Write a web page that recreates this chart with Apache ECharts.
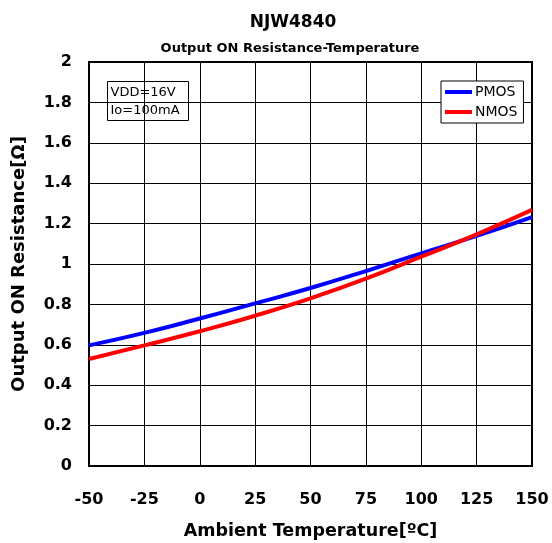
<!DOCTYPE html>
<html>
<head>
<meta charset="utf-8">
<script src="https://cdn.jsdelivr.net/npm/echarts@6/dist/echarts.min.js"></script>
<style>html,body{margin:0;padding:0;background:#fff}#c{width:552px;height:543px}</style>
</head>
<body>
<div id="c"></div>
<script>
const temps = [-50, -25, 0, 25, 50, 75, 100, 125, 150];
const pmos = [0.597, 0.659, 0.730, 0.805, 0.881, 0.965, 1.053, 1.139, 1.232];
const nmos = [0.530, 0.597, 0.667, 0.744, 0.830, 0.927, 1.036, 1.147, 1.268];
const seriesNames = ['PMOS', 'NMOS'];
const titleText = 'NJW4840';
const subtitleText = 'Output ON Resistance-Temperature';
const xName = 'Ambient Temperature[ºC]';
const yName = 'Output ON Resistance[Ω]';
const noteLines = ['VDD=16V', 'Io=100mA'];

const F = '"DejaVu Sans", sans-serif';
const chart = echarts.init(document.getElementById('c'), null, {renderer: 'canvas'});
chart.setOption({
  animation: false,
  backgroundColor: '#fff',
  title: [
    {text: titleText, left: 288, top: 9, textAlign: 'center',
     textStyle: {fontFamily: F, fontSize: 17, fontWeight: 'bold', color: '#000'}},
    {text: subtitleText, left: 285, top: 37, textAlign: 'center',
     textStyle: {fontFamily: F, fontSize: 13, fontWeight: 'bold', color: '#000'}}
  ],
  grid: {left: 89, right: 20, top: 62, bottom: 77, show: true, borderColor: '#000', borderWidth: 2,
         containLabel: false, outerBoundsMode: 'none'},
  legend: {
    data: seriesNames, orient: 'vertical', left: 441, top: 81,
    backgroundColor: '#fff', borderColor: '#000', borderWidth: 1, padding: [4, 6, 4, 4],
    itemWidth: 27, itemHeight: 4, itemGap: 6, icon: 'rect',
    textStyle: {fontFamily: F, fontSize: 14, color: '#000', padding: [0, 0, 0, -2]}
  },
  xAxis: {
    type: 'value', min: -50, max: 150, interval: 25,
    name: xName, nameLocation: 'middle', nameGap: 56,
    nameTextStyle: {fontFamily: F, fontSize: 17.5, fontWeight: 'bold', color: '#000'},
    axisLine: {show: false}, axisTick: {show: false},
    axisLabel: {fontFamily: F, fontSize: 16, fontWeight: 'bold', color: '#000', margin: 26},
    splitLine: {show: true, lineStyle: {color: '#000', width: 1}}
  },
  yAxis: {
    type: 'value', min: 0, max: 2, interval: 0.2,
    name: yName, nameLocation: 'middle', nameGap: 61, nameRotate: 90,
    nameTextStyle: {fontFamily: F, fontSize: 18, fontWeight: 'bold', color: '#000'},
    axisLine: {show: false}, axisTick: {show: false},
    axisLabel: {fontFamily: F, fontSize: 16, fontWeight: 'bold', color: '#000', margin: 17,
      formatter: v => String(Math.round(v * 10) / 10)},
    splitLine: {show: true, lineStyle: {color: '#000', width: 1}}
  },
  graphic: [{
    type: 'group', left: 107, top: 81, z: 100,
    children: [
      {type: 'rect', shape: {x: 0, y: 0, width: 81, height: 39}, style: {fill: '#fff', stroke: '#000', lineWidth: 1}},
      {type: 'text', x: 3, y: 2, style: {text: noteLines.join('\n'), font: '13px ' + F, fill: '#000', lineHeight: 18}}
    ]
  }],
  series: [
    {name: seriesNames[0], type: 'line', smooth: true, symbol: 'none', data: temps.map((t, i) => [t, pmos[i]]),
     lineStyle: {color: '#0000ff', width: 4}, itemStyle: {color: '#0000ff'}, z: 3},
    {name: seriesNames[1], type: 'line', smooth: true, symbol: 'none', data: temps.map((t, i) => [t, nmos[i]]),
     lineStyle: {color: '#ff0000', width: 4}, itemStyle: {color: '#ff0000'}, z: 4}
  ]
});
</script>
</body>
</html>
